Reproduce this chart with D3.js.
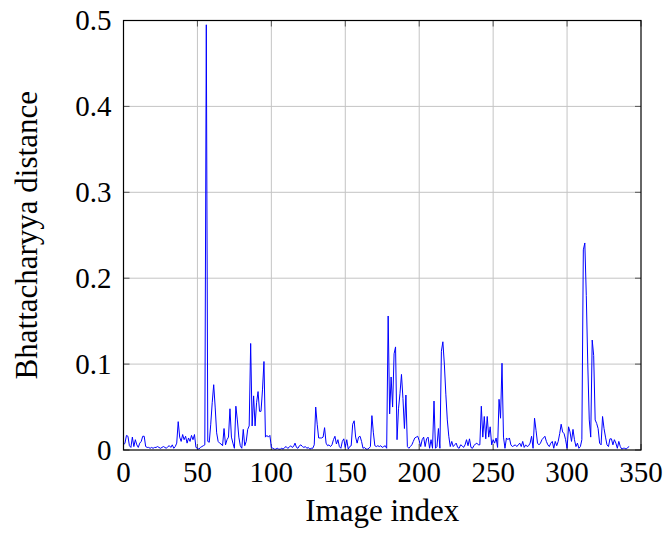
<!DOCTYPE html>
<html>
<head>
<meta charset="utf-8">
<script src="https://cdn.jsdelivr.net/npm/d3@7"></script>
<style>
  body { margin: 0; background: #fff; }
</style>
</head>
<body>
<div id="chart"></div>
<script>
// Bhattacharyya distance per image, index 0..342
const distances = [
  0.006, 0.008, 0.017, 0.016, 0.005, 0.003, 0.015, 0.004, 0.012, 0.006,
  0.003, 0.008, 0.010, 0.016, 0.016, 0.004, 0.003, 0.003, 0.002, 0.003,
  0.002, 0.003, 0.003, 0.004, 0.003, 0.002, 0.003, 0.004, 0.003, 0.002,
  0.004, 0.005, 0.003, 0.006, 0.002, 0.004, 0.008, 0.033, 0.015, 0.010,
  0.018, 0.012, 0.016, 0.008, 0.014, 0.010, 0.017, 0.012, 0.018, 0.003,
  0.002, 0.001, 0.003, 0.004, 0.005, 0.006, 0.495, 0.010, 0.009, 0.030,
  0.055, 0.076, 0.050, 0.020, 0.010, 0.008, 0.007, 0.005, 0.025, 0.006,
  0.012, 0.015, 0.048, 0.015, 0.008, 0.002, 0.051, 0.035, 0.015, 0.005,
  0.002, 0.024, 0.005, 0.010, 0.024, 0.028, 0.124, 0.028, 0.063, 0.028,
  0.055, 0.068, 0.045, 0.045, 0.070, 0.103, 0.015, 0.017, 0.015, 0.017,
  0.003, 0.002, 0.001, 0.001, 0.002, 0.001, 0.001, 0.002, 0.001, 0.003,
  0.004, 0.002, 0.003, 0.005, 0.003, 0.004, 0.008, 0.003, 0.002, 0.005,
  0.006, 0.004, 0.003, 0.004, 0.002, 0.003, 0.001, 0.002, 0.002, 0.006,
  0.050, 0.030, 0.014, 0.014, 0.014, 0.015, 0.026, 0.008, 0.005, 0.006,
  0.004, 0.006, 0.012, 0.016, 0.007, 0.012, 0.004, 0.002, 0.010, 0.013,
  0.003, 0.012, 0.001, 0.004, 0.005, 0.030, 0.034, 0.015, 0.008, 0.015,
  0.016, 0.010, 0.002, 0.003, 0.001, 0.001, 0.002, 0.004, 0.040, 0.020,
  0.005, 0.004, 0.005, 0.004, 0.005, 0.003, 0.004, 0.005, 0.002, 0.156,
  0.042, 0.085, 0.050, 0.112, 0.120, 0.012, 0.048, 0.066, 0.088, 0.060,
  0.025, 0.064, 0.004, 0.002, 0.004, 0.006, 0.010, 0.014, 0.015, 0.016,
  0.011, 0.004, 0.012, 0.015, 0.004, 0.013, 0.015, 0.002, 0.012, 0.002,
  0.057, 0.002, 0.004, 0.025, 0.002, 0.115, 0.126, 0.100, 0.065, 0.035,
  0.016, 0.004, 0.010, 0.004, 0.006, 0.008, 0.003, 0.002, 0.006, 0.005,
  0.003, 0.006, 0.012, 0.005, 0.013, 0.003, 0.002, 0.005, 0.007, 0.008,
  0.006, 0.006, 0.051, 0.015, 0.039, 0.013, 0.039, 0.015, 0.027, 0.006,
  0.012, 0.008, 0.014, 0.003, 0.059, 0.037, 0.101, 0.015, 0.002, 0.014,
  0.012, 0.014, 0.006, 0.004, 0.005, 0.006, 0.004, 0.006, 0.008, 0.004,
  0.010, 0.003, 0.006, 0.004, 0.005, 0.008, 0.016, 0.002, 0.037, 0.023,
  0.008, 0.006, 0.008, 0.012, 0.014, 0.016, 0.010, 0.006, 0.004, 0.008,
  0.010, 0.002, 0.010, 0.005, 0.010, 0.019, 0.030, 0.021, 0.019, 0.012,
  0.002, 0.027, 0.021, 0.010, 0.024, 0.012, 0.004, 0.008, 0.002, 0.004,
  0.012, 0.233, 0.241, 0.180, 0.100, 0.035, 0.015, 0.128, 0.110, 0.035,
  0.031, 0.025, 0.008, 0.006, 0.039, 0.025, 0.015, 0.006, 0.004, 0.013,
  0.013, 0.006, 0.012, 0.008, 0.002, 0.010, 0.004, 0.001, 0.002, 0.002,
  0.001, 0.003, 0.004
];
const xTicks = [0, 50, 100, 150, 200, 250, 300, 350];
const yTicks = [0, 0.1, 0.2, 0.3, 0.4, 0.5];
const xLabel = "Image index";
const yLabel = "Bhattacharyya distance";

const width = 667, height = 535;
const margin = { top: 20.5, right: 26, bottom: 85, left: 123.5 };
const serif = '"Liberation Serif", "Times New Roman", Tinos, serif';

const svg = d3.select("#chart").append("svg")
  .attr("width", width)
  .attr("height", height);

const x = d3.scaleLinear().domain([0, 350]).range([margin.left, width - margin.right]);
const y = d3.scaleLinear().domain([0, 0.5]).range([height - margin.bottom, margin.top]);

// grid
const grid = svg.append("g").attr("stroke", "#c4c4c4").attr("stroke-width", 1);
grid.selectAll(".gx").data(xTicks.slice(1, -1)).join("line")
  .attr("x1", d => x(d)).attr("x2", d => x(d))
  .attr("y1", y(0)).attr("y2", y(0.5));
grid.selectAll(".gy").data(yTicks.slice(1, -1)).join("line")
  .attr("x1", x(0)).attr("x2", x(350))
  .attr("y1", d => y(d)).attr("y2", d => y(d));

// inward tick marks on all four sides
const tl = 6;
const ticks = svg.append("g").attr("stroke", "#555").attr("stroke-width", 1);
xTicks.forEach(d => {
  ticks.append("line").attr("x1", x(d)).attr("x2", x(d)).attr("y1", y(0)).attr("y2", y(0) - tl);
  ticks.append("line").attr("x1", x(d)).attr("x2", x(d)).attr("y1", y(0.5)).attr("y2", y(0.5) + tl);
});
yTicks.forEach(d => {
  ticks.append("line").attr("x1", x(0)).attr("x2", x(0) + tl).attr("y1", y(d)).attr("y2", y(d));
  ticks.append("line").attr("x1", x(350)).attr("x2", x(350) - tl).attr("y1", y(d)).attr("y2", y(d));
});

// data line
const line = d3.line()
  .x((d, i) => x(i))
  .y(d => y(d));

svg.append("path")
  .datum(distances)
  .attr("fill", "none")
  .attr("stroke", "#0000ff")
  .attr("stroke-width", 1)
  .attr("stroke-linejoin", "round")
  .attr("d", line);

// frame
svg.append("rect")
  .attr("x", x(0)).attr("y", y(0.5))
  .attr("width", x(350) - x(0)).attr("height", y(0) - y(0.5))
  .attr("fill", "none").attr("stroke", "#000").attr("stroke-width", 1.2);

// tick labels
svg.append("g").selectAll("text").data(xTicks).join("text")
  .attr("x", d => x(d)).attr("y", y(0) + 32)
  .attr("text-anchor", "middle")
  .style("font-family", serif)
  .style("font-size", "29px")
  .text(d => d);

svg.append("g").selectAll("text").data(yTicks).join("text")
  .attr("x", x(0) - 12).attr("y", d => y(d))
  .attr("dy", "0.34em")
  .attr("text-anchor", "end")
  .style("font-family", serif)
  .style("font-size", "29px")
  .text(d => d === 0 ? "0" : d.toFixed(1));

// axis labels
svg.append("text")
  .attr("x", (x(0) + x(350)) / 2).attr("y", 521)
  .attr("text-anchor", "middle")
  .style("font-family", serif)
  .style("font-size", "31px")
  .text(xLabel);

svg.append("text")
  .attr("transform", `translate(37, ${(y(0) + y(0.5)) / 2}) rotate(-90)`)
  .attr("text-anchor", "middle")
  .style("font-family", serif)
  .style("font-size", "31px")
  .text(yLabel);
</script>
</body>
</html>
